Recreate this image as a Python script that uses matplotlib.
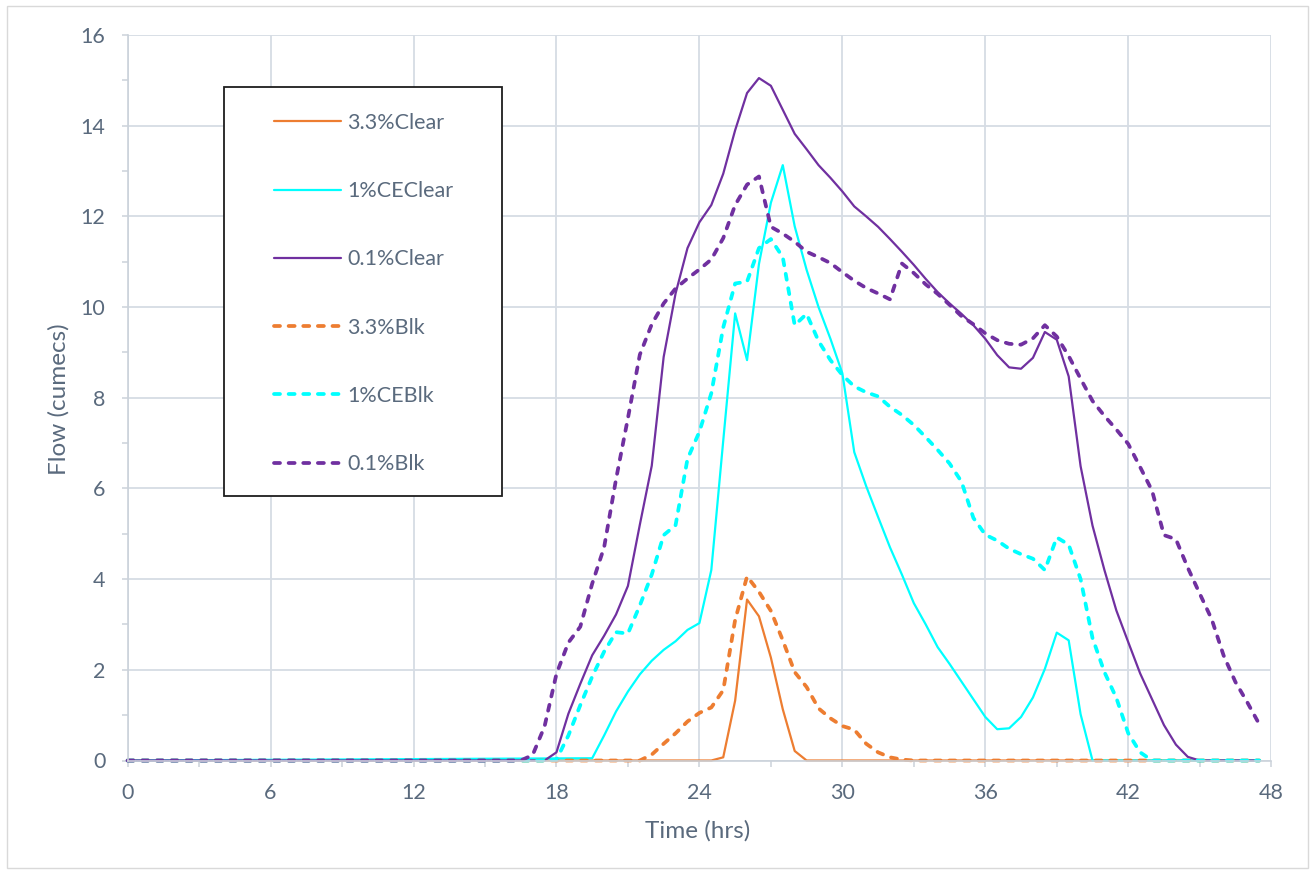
import matplotlib
matplotlib.use('Agg')
import matplotlib.pyplot as plt
from matplotlib.patches import Rectangle
from matplotlib.ticker import MultipleLocator

plt.rcParams['font.family'] = ['Lato', 'DejaVu Sans']

# ---------------- data (time in hours, flow in cumecs) ----------------
t_33clear = [0, 24.5, 25, 25.5, 26, 26.5, 27, 27.5, 28, 28.5, 47.5]
v_33clear = [0, 0, 0.07, 1.32, 3.55, 3.18, 2.27, 1.13, 0.21, 0, 0]

t_1clear = [0, 19.5, 20, 20.5, 21, 21.5, 22, 22.5, 23, 23.5, 24, 24.5, 25, 25.5,
            26, 26.5, 27, 27.5, 28, 28.5, 29, 29.5, 30, 30.5, 31, 31.5, 32, 32.5,
            33, 33.5, 34, 34.5, 35, 35.5, 36, 36.5, 37, 37.5, 38, 38.5, 39, 39.5,
            40, 40.5, 47.5]
v_1clear = [0, 0.05, 0.55, 1.08, 1.52, 1.9, 2.2, 2.44, 2.63, 2.88, 3.03, 4.2, 7.05, 9.86,
            8.83, 10.95, 12.3, 13.13, 11.78, 10.82, 10.0, 9.3, 8.54, 6.8, 6.05, 5.37, 4.7, 4.1,
            3.47, 3.0, 2.5, 2.13, 1.74, 1.35, 0.96, 0.69, 0.71, 0.96, 1.39, 2.02, 2.82, 2.65,
            1.02, 0, 0]

t_01clear = [0, 17.5, 18, 18.5, 19, 19.5, 20, 20.5, 21, 21.5, 22, 22.5, 23, 23.5, 24,
             24.5, 25, 25.5, 26, 26.5, 27, 27.5, 28, 28.5, 29, 29.5, 30, 30.5, 31, 31.5,
             32, 32.5, 33, 33.5, 34, 34.5, 35, 35.5, 36, 36.5, 37, 37.5, 38, 38.5, 39,
             39.5, 40, 40.5, 41, 41.5, 42, 42.5, 43, 43.5, 44, 44.5, 45, 47.5]
v_01clear = [0, 0, 0.18, 1.03, 1.69, 2.32, 2.75, 3.22, 3.85, 5.2, 6.5, 8.9, 10.3, 11.3, 11.87,
             12.25, 12.94, 13.9, 14.72, 15.05, 14.88, 14.35, 13.82, 13.48, 13.13, 12.85, 12.55,
             12.22, 12.0, 11.77, 11.5, 11.22, 10.93, 10.62, 10.33, 10.08, 9.85, 9.6, 9.3, 8.94,
             8.67, 8.64, 8.88, 9.45, 9.28, 8.47, 6.49, 5.18, 4.2, 3.31, 2.61, 1.92, 1.35, 0.78,
             0.35, 0.08, 0, 0]

t_33blk = [0, 21.5, 22, 22.5, 23, 23.5, 24, 24.5, 25, 25.5, 26, 26.5, 27, 27.5, 28, 28.5,
           29, 29.5, 30, 30.5, 31, 31.5, 32, 32.5, 33, 47.5]
v_33blk = [0, 0, 0.13, 0.37, 0.6, 0.86, 1.05, 1.17, 1.55, 3.1, 4.06, 3.72, 3.3, 2.65, 1.95,
           1.62, 1.15, 0.93, 0.76, 0.68, 0.37, 0.18, 0.07, 0.02, 0, 0]

t_1blk = [0, 17.5, 18, 18.5, 19, 19.5, 20, 20.5, 21, 21.5, 22, 22.5, 23, 23.5, 24, 24.5,
          25, 25.5, 26, 26.5, 27, 27.5, 28, 28.5, 29, 29.5, 30, 30.5, 31, 31.5, 32, 32.5,
          33, 33.5, 34, 34.5, 35, 35.5, 36, 36.5, 37, 37.5, 38, 38.5, 39, 39.5, 40, 40.5,
          41, 41.5, 42, 42.5, 43, 47.5]
v_1blk = [0, 0, 0.02, 0.55, 1.22, 1.85, 2.4, 2.83, 2.8, 3.42, 4.1, 4.97, 5.19, 6.65, 7.25, 8.1,
          9.55, 10.52, 10.56, 11.3, 11.5, 11.1, 9.6, 9.85, 9.25, 8.83, 8.5, 8.25, 8.12, 8.03,
          7.8, 7.62, 7.4, 7.13, 6.85, 6.55, 6.15, 5.35, 4.98, 4.85, 4.67, 4.55, 4.45, 4.2, 4.92,
          4.76, 4.0, 2.7, 1.95, 1.38, 0.6, 0.18, 0, 0]

t_01blk = [0, 16.5, 17, 17.5, 18, 18.5, 19, 19.5, 20, 20.5, 21, 21.5, 22, 22.5, 23, 23.5,
           24, 24.5, 25, 25.5, 26, 26.5, 27, 27.5, 28, 28.5, 29, 29.5, 30, 30.5, 31, 31.5,
           32, 32.5, 33, 33.5, 34, 34.5, 35, 35.5, 36, 36.5, 37, 37.5, 38, 38.5, 39, 39.5,
           40, 40.5, 41, 41.5, 42, 42.5, 43, 43.5, 44, 44.5, 45, 45.5, 46, 46.5, 47, 47.5]
v_01blk = [0, 0, 0.12, 0.75, 1.91, 2.6, 2.95, 3.9, 4.7, 6.2, 7.55, 8.95, 9.62, 10.08, 10.41,
           10.63, 10.83, 11.05, 11.52, 12.25, 12.7, 12.88, 11.77, 11.62, 11.44, 11.22, 11.1,
           10.97, 10.77, 10.58, 10.42, 10.3, 10.17, 10.96, 10.75, 10.5, 10.29, 10.05, 9.8, 9.62,
           9.42, 9.27, 9.19, 9.17, 9.31, 9.6, 9.35, 8.92, 8.42, 7.93, 7.6, 7.3, 6.98, 6.47, 5.95,
           4.97, 4.88, 4.25, 3.68, 3.12, 2.32, 1.73, 1.28, 0.8]

labels = ['3.3%Clear', '1%CEClear', '0.1%Clear', '3.3%Blk', '1%CEBlk', '0.1%Blk']
x_ticks = [0, 6, 12, 18, 24, 30, 36, 42, 48]
y_ticks = [0, 2, 4, 6, 8, 10, 12, 14, 16]

# ---------------- styling ----------------
ORANGE = '#ED7D31'
CYAN = '#00FFFF'
PURPLE = '#7030A0'
TEXT = '#5A6A7D'
GRID = '#D6DCE4'

W, H = 1314, 874
fig = plt.figure(figsize=(W / 100, H / 100), dpi=100)
ax_l, ax_r, ax_t, ax_b = 127.6, 1271.2, 35.0, 760.5
ax = fig.add_axes([ax_l / W, 1 - ax_b / H, (ax_r - ax_l) / W, (ax_b - ax_t) / H])

series = [
    (t_33clear, v_33clear, ORANGE, False),
    (t_1clear, v_1clear, CYAN, False),
    (t_01clear, v_01clear, PURPLE, False),
    (t_33blk, v_33blk, ORANGE, True),
    (t_1blk, v_1blk, CYAN, True),
    (t_01blk, v_01blk, PURPLE, True),
]
handles = []
for (t, v, c, dashed), lab in zip(series, labels):
    if dashed:
        ln, = ax.plot(t, v, color=c, lw=2.7, linestyle=(0, (1.6, 2.3)),
                      dash_capstyle='round', dash_joinstyle='round', label=lab, clip_on=False)
    else:
        ln, = ax.plot(t, v, color=c, lw=1.6, solid_joinstyle='round',
                      solid_capstyle='round', label=lab, clip_on=False)
    handles.append(ln)

ax.set_xlim(0, 48)
ax.set_ylim(0, 16)
ax.set_xticks(x_ticks)
ax.set_yticks(y_ticks)
ax.xaxis.set_minor_locator(MultipleLocator(3))
ax.yaxis.set_minor_locator(MultipleLocator(1))
ax.grid(True, which='major', color=GRID, lw=1.3)
ax.set_axisbelow(True)
for s in ['top', 'right']:
    ax.spines[s].set_visible(False)
for s in ['left', 'bottom']:
    ax.spines[s].set_color('#CBD2DA')
    ax.spines[s].set_linewidth(1.2)
ax.tick_params(which='both', direction='out', length=4, width=1.1, color='#CBD2DA')
ax.tick_params(axis='y', which='major', labelsize=15.5, labelcolor=TEXT, pad=12)
ax.tick_params(axis='x', which='major', labelsize=15.5, labelcolor=TEXT, pad=12)

ax.set_xlabel('Time (hrs)', fontsize=17.5, color=TEXT, va='center')
ax.set_ylabel('Flow (cumecs)', fontsize=17.5, color=TEXT, va='center')
ax.xaxis.set_label_coords(0.4986, (ax_b - 831) / (ax_b - ax_t))
ax.yaxis.set_label_coords((59 - ax_l) / (ax_r - ax_l), (ax_b - 399) / (ax_b - ax_t))

# legend box
lx0, lx1, ly0, ly1 = 224, 502, 86.7, 496
box = Rectangle((lx0 / W, 1 - ly1 / H), (lx1 - lx0) / W, (ly1 - ly0) / H,
                transform=fig.transFigure, facecolor='white', edgecolor='#1E1E1E',
                lw=1.3, zorder=3)
fig.add_artist(box)
fig.legend(handles, labels, loc='upper left', bbox_to_anchor=(274 / W, 1 - 113 / H),
           bbox_transform=fig.transFigure, frameon=False, fontsize=15.5,
           handlelength=3.1, handletextpad=0.31, labelspacing=2.24, borderpad=0,
           borderaxespad=0, labelcolor=TEXT)

# chart area border
border = Rectangle((7 / W, 1 - 868 / H), (1308 - 7) / W, (868 - 6) / H,
                   transform=fig.transFigure, fill=False, edgecolor='#D9D9D9', lw=1.0, zorder=0)
fig.add_artist(border)

fig.savefig('out.png', dpi=100)
